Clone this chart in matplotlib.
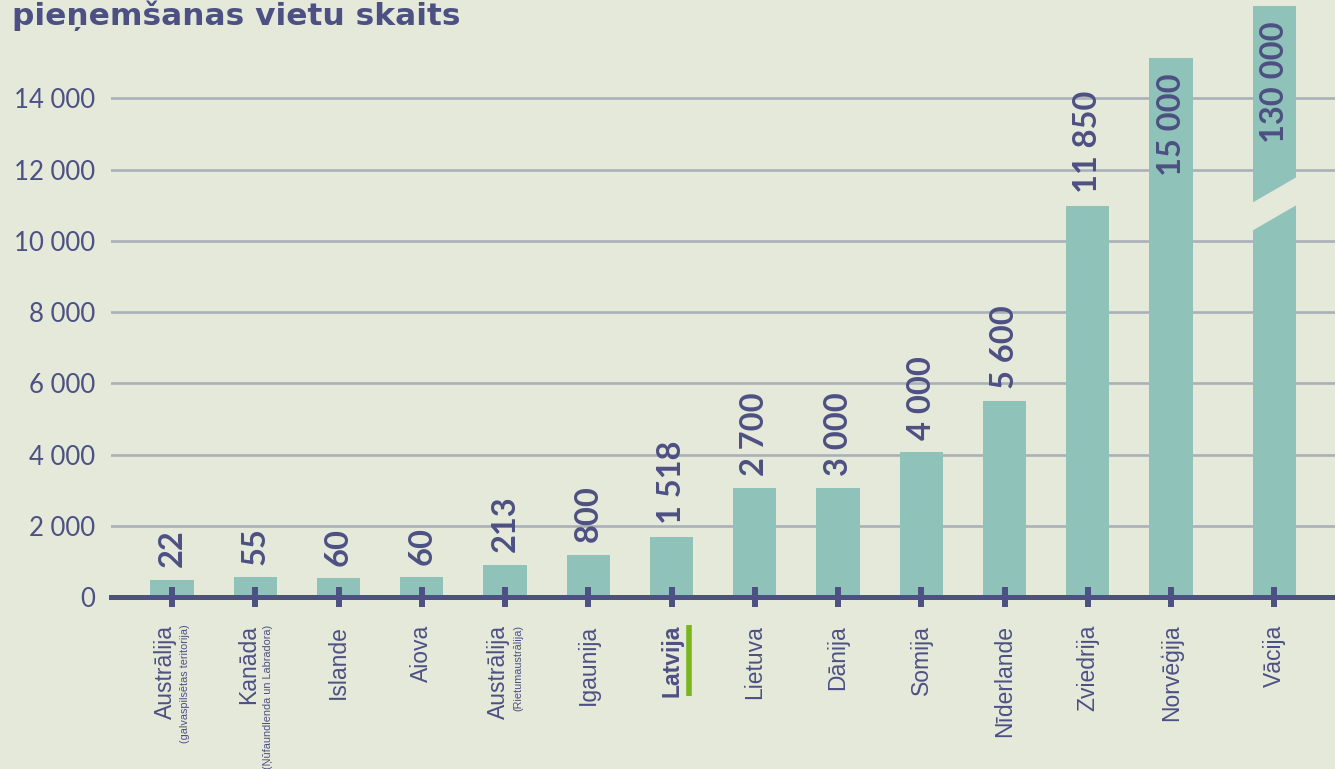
import matplotlib
matplotlib.use("Agg")
import matplotlib.pyplot as plt
from matplotlib.patches import Polygon
from matplotlib.lines import Line2D

# ---------------- data ----------------
countries = ["Austrālija", "Kanāda", "Islande", "Aiova", "Austrālija", "Igaunija",
             "Latvija", "Lietuva", "Dānija", "Somija", "Nīderlande", "Zviedrija",
             "Norvēģija", "Vācija"]
subtitles = ["(galvaspilsētas teritorija)", "(Ņūfaundlenda un Labradora)", "", "",
             "(Rietumaustrālija)", "", "", "", "", "", "", "", "", ""]
# drawn (visual) bar heights
bar_heights = [480, 560, 530, 560, 900, 1180, 1690, 3060, 3060, 4070, 5500, 10980, 15130, 16600]
# value labels printed on the bars
value_labels = ["22", "55", "60", "60", "213", "800", "1 518", "2 700", "3 000",
                "4 000", "5 600", "11 850", "15 000", "130 000"]
yticks = [0, 2000, 4000, 6000, 8000, 10000, 12000, 14000]
ytick_labels = ["0", "2 000", "4 000", "6 000", "8 000", "10 000", "12 000", "14 000"]
title = "pieņemšanas vietu skaits"
highlight = "Latvija"
# axis break on the last bar (data units)
break_start, break_rise, break_gap = 10275, 730, 785

# ---------------- style ----------------
bg = "#e5e9da"
bar_c = "#8fc2b9"
navy = "#4d5082"
grid_c = "#aab0b8"
green = "#79b51c"

W, H = 1335, 769
fig = plt.figure(figsize=(W / 100, H / 100), dpi=100, facecolor=bg)
ax_left, ax_zero = 111, 597
ax = fig.add_axes([ax_left / W, 1 - ax_zero / H, 1 - ax_left / W, ax_zero / H])
ax.set_facecolor(bg)

n = len(countries)
positions = [i for i in range(n - 1)] + [n - 1 + 0.24]
bw = 0.52

ax.set_xlim(-0.733, 13.97)
ax.set_ylim(0, 16760)

for v in yticks[1:]:
    ax.axhline(v, color=grid_c, lw=1.9, zorder=0.5)

ax.bar(positions, bar_heights, width=bw, color=bar_c, zorder=1)

# axis break on the last bar
xb = positions[-1]
xl, xr = xb - bw / 2 - 0.01, xb + bw / 2 + 0.01
poly = Polygon([(xl, break_start), (xr, break_start + break_rise),
                (xr, break_start + break_rise + break_gap), (xl, break_start + break_gap)],
               closed=True, facecolor=bg, edgecolor="none", zorder=1.2)
ax.add_patch(poly)

for s in ["left", "right", "top"]:
    ax.spines[s].set_visible(False)
ax.spines["bottom"].set_color(navy)
ax.spines["bottom"].set_linewidth(3.6)
ax.spines["bottom"].set_zorder(2.5)

ax.set_xticks(positions, labels=[""] * n)
ax.tick_params(axis="x", direction="inout", length=15, width=4.3, color=navy)
ax.set_yticks(yticks, labels=ytick_labels)
ax.tick_params(axis="y", length=0, pad=11.5, labelsize=18.5, labelcolor=navy)
for lab in ax.get_yticklabels():
    lab.set_fontfamily(["Lato", "DejaVu Sans"])

# value labels
inside = [False] * (n - 2) + [True, True]
for x, h, lab, ins in zip(positions, bar_heights, value_labels, inside):
    if ins:
        ax.annotate(lab, (x, h), xytext=(0, -11), textcoords="offset points",
                    rotation=90, ha="center", va="top", fontsize=23.5,
                    fontweight="bold", color=navy, family=["Lato", "DejaVu Sans"],
                    zorder=3)
    else:
        ax.annotate(lab, (x, h), xytext=(0, 9), textcoords="offset points",
                    rotation=90, ha="center", va="bottom", fontsize=23.5,
                    fontweight="bold", color=navy, family=["Lato", "DejaVu Sans"],
                    zorder=3)

# category labels
hl_text = None
for x, name, sub in zip(positions, countries, subtitles):
    dx = -5 if sub else 0
    bold = name == highlight
    t = ax.annotate(name, (x, 0), xytext=(dx, -20), textcoords="offset points",
                    rotation=90, ha="center", va="top", fontsize=16.5,
                    fontweight="bold" if bold else "normal", color=navy,
                    family=["Liberation Sans", "DejaVu Sans"], annotation_clip=False)
    if bold:
        hl_text = t
    if sub:
        ax.annotate(sub, (x, 0), xytext=(9.5, -20), textcoords="offset points",
                    rotation=90, ha="center", va="top", fontsize=7.8,
                    color=navy, family=["Liberation Sans", "DejaVu Sans"],
                    annotation_clip=False)

fig.text(12 / W, 1 - 25 / H, title, ha="left", va="baseline", fontsize=22.5,
         fontweight="bold", color=navy, family=["DejaVu Sans"])

fig.canvas.draw()
r = fig.canvas.get_renderer()
bb = hl_text.get_window_extent(r)
gx = bb.x1 + 6
fig.add_artist(Line2D([gx, gx], [bb.y0 + 1, bb.y1], transform=None, color=green,
                      lw=4.0, solid_capstyle="butt"))

fig.savefig("out.png", dpi=100, facecolor=bg)
